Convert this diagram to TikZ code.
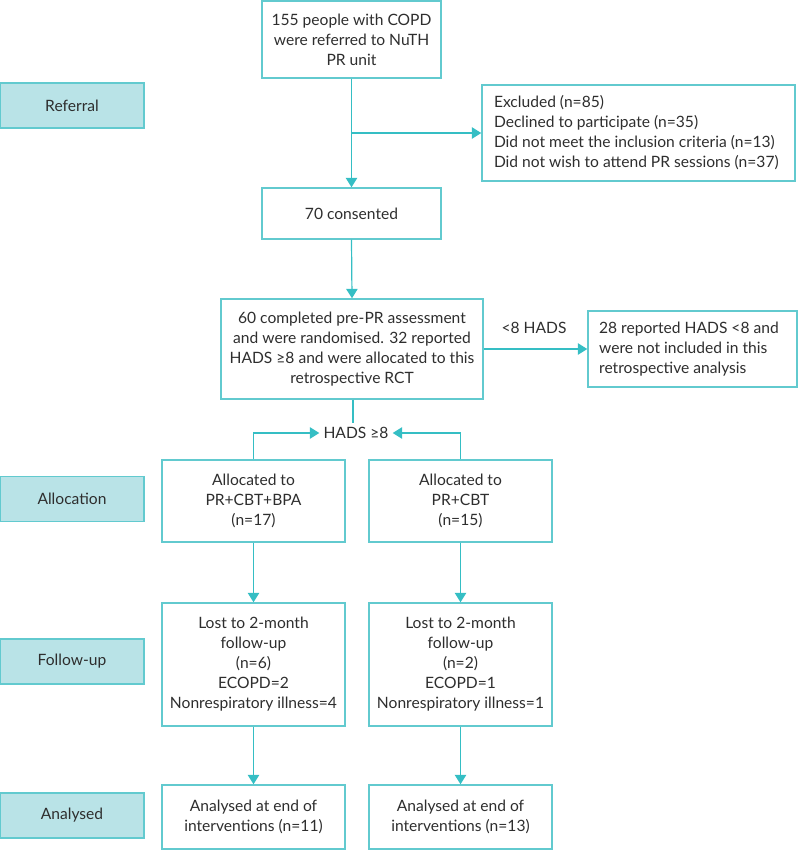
\documentclass[tikz,border=0pt]{standalone}
\usepackage{fontspec}
\setmainfont{Lato}
\usetikzlibrary{arrows.meta}
\definecolor{tealline}{HTML}{35BEC4}
\definecolor{tealborder}{HTML}{62CACF}
\definecolor{tealfill}{HTML}{B9E3E7}
\definecolor{txt}{HTML}{2E2E2E}
\tikzset{
  box/.style={draw=tealborder, line width=1.1pt, fill=white, text=txt, align=center, inner sep=0pt, font=\fontsize{11.7}{15}\selectfont},
  lbl/.style={draw=tealborder, line width=1.1pt, fill=tealfill, text=txt, minimum width=108pt, minimum height=33.75pt, inner sep=0pt, font=\fontsize{11.7}{15}\selectfont},
  conn/.style={draw=tealline, line width=0.9pt},
  arr/.style={conn, -{Triangle[length=7pt,width=8.5pt]}},
  plain/.style={text=txt, inner sep=0pt, font=\fontsize{11.7}{15}\selectfont}
}
\begin{document}
\begin{tikzpicture}[x=0.75pt,y=-0.75pt]
\useasboundingbox (0,0) rectangle (798,850);
% labels
\node[lbl] (lref) at (72,105.5) {Referral};
\node[lbl] (lall) at (72,499) {Allocation};
\node[lbl] (lfol) at (72,661.5) {Follow-up};
\node[lbl] (lana) at (72,815.5) {Analysed};
% main boxes
\node[box, minimum width=134.25pt, minimum height=57.5pt] (top) at (351.5,39.5) {155 people with COPD\\were referred to NuTH\\PR unit};
\node[box, minimum width=234.75pt, minimum height=72pt, align=left] (excl) at (638.5,133) {\parbox{216.75pt}{Excluded (n=85)\\Declined to participate (n=35)\\Did not meet the inclusion criteria (n=13)\\Did not wish to attend PR sessions (n=37)}};
\node[box, minimum width=134.25pt, minimum height=38.25pt] (cons) at (351.5,213.5) {70 consented};
\node[box, minimum width=196.5pt, minimum height=75pt] (comp) at (352,349) {60 completed pre-PR assessment\\and were randomised. 32 reported\\HADS ≥8 and were allocated to this\\retrospective RCT};
\node[box, minimum width=156.75pt, minimum height=57pt, align=left] (r28) at (692.5,349) {\parbox{140pt}{28 reported HADS <8 and\\were not included in this\\retrospective analysis}};
\node[plain] (lt8) at (534,328) {<8 HADS};
\node[plain] (ge8) at (356,433) {HADS ≥8};
\node[box, minimum width=137.25pt, minimum height=61.5pt] (allocL) at (253.5,501) {Allocated to\\PR+CBT+BPA\\(n=17)};
\node[box, minimum width=137.25pt, minimum height=61.5pt] (allocR) at (460.5,501) {Allocated to\\PR+CBT\\(n=15)};
\node[box, minimum width=137.25pt, minimum height=92.25pt] (lostL) at (253.5,664.5) {Lost to 2-month\\follow-up\\(n=6)\\ECOPD=2\\Nonrespiratory illness=4};
\node[box, minimum width=137.25pt, minimum height=92.25pt] (lostR) at (460.5,664.5) {Lost to 2-month\\follow-up\\(n=2)\\ECOPD=1\\Nonrespiratory illness=1};
\node[box, minimum width=137.25pt, minimum height=48pt] (anL) at (253.5,817) {Analysed at end of\\interventions (n=11)};
\node[box, minimum width=137.25pt, minimum height=48pt] (anR) at (460.5,817) {Analysed at end of\\interventions (n=13)};
% connectors
\coordinate (br) at (352,133);
\coordinate (ge8top) at (353,423);
\draw[arr] (top.south) -- (cons.north);
\draw[arr] (br) -- (excl.west |- br);
\draw[arr] (cons.south) -- (comp.north);
\draw[arr] (comp.east) -- (r28.west);
\draw[conn] (comp.south -| ge8top) -- (ge8top);
\draw[arr] (allocL.north) |- ([xshift=-3pt]ge8.west);
\draw[arr] (allocR.north) |- ([xshift=3pt]ge8.east);
\draw[arr] (allocL.south) -- (lostL.north);
\draw[arr] (allocR.south) -- (lostR.north);
\draw[arr] (lostL.south) -- (anL.north);
\draw[arr] (lostR.south) -- (anR.north);
\end{tikzpicture}
\end{document}
